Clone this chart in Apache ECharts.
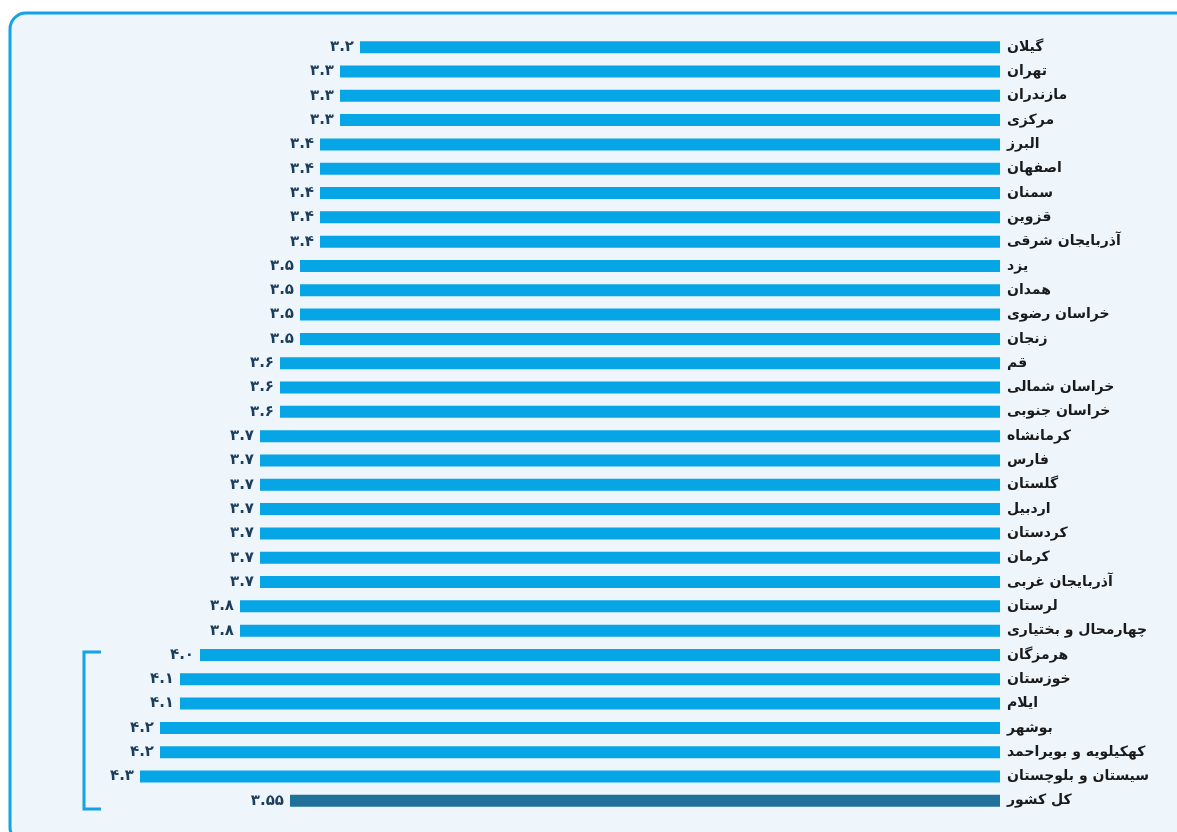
<!DOCTYPE html>
<html>
<head>
<meta charset="utf-8">
<script src="https://cdn.jsdelivr.net/npm/echarts@6/dist/echarts.min.js"></script>
<style>
  html, body { margin: 0; padding: 0; background: #ffffff; }
  #chart { width: 1177px; height: 832px; }
</style>
</head>
<body>
<div id="chart"></div>
<script>
// provinces, top to bottom
const provinces = [
  "گیلان", "تهران", "مازندران", "مرکزی", "البرز", "اصفهان", "سمنان", "قزوین",
  "آذربایجان شرقی", "یزد", "همدان", "خراسان رضوی", "زنجان", "قم",
  "خراسان شمالی", "خراسان جنوبی", "کرمانشاه", "فارس", "گلستان", "اردبیل",
  "کردستان", "کرمان", "آذربایجان غربی", "لرستان", "چهارمحال و بختیاری",
  "هرمزگان", "خوزستان", "ایلام", "بوشهر", "کهکیلویه و بویراحمد",
  "سیستان و بلوچستان", "کل کشور"
];
const values = [
  3.2, 3.3, 3.3, 3.3, 3.4, 3.4, 3.4, 3.4,
  3.4, 3.5, 3.5, 3.5, 3.5, 3.6,
  3.6, 3.6, 3.7, 3.7, 3.7, 3.7,
  3.7, 3.7, 3.7, 3.8, 3.8,
  4.0, 4.1, 4.1, 4.2, 4.2,
  4.3, 3.55
];

const faDigits = "۰۱۲۳۴۵۶۷۸۹";
function toFa(v) {
  // one decimal unless the value needs two (3.55)
  const s = Math.abs(v * 10 - Math.round(v * 10)) < 1e-9 ? v.toFixed(1) : v.toFixed(2);
  return s.replace(/[0-9]/g, d => faDigits[+d]);
}

const chart = echarts.init(document.getElementById("chart"));

const barData = values.map((v, i) => ({
  value: v,
  itemStyle: { color: i === values.length - 1 ? "#1f7199" : "#06a5e5" }
}));

const option = {
  backgroundColor: "#ffffff",
  animation: false,
  graphic: [
    {
      type: "rect",
      z: -10,
      shape: { x: 10, y: 13, width: 1200, height: 830, r: 16 },
      style: { fill: "#eef6fc", stroke: "#13a2e3", lineWidth: 3 }
    },
    {
      type: "polyline",
      z: 5,
      shape: { points: [[101, 652], [84, 652], [84, 809], [101, 809]] },
      style: { stroke: "#13a2e3", lineWidth: 3, fill: null }
    }
  ],
  grid: { left: 100, right: 177, top: 35, bottom: 19, containLabel: false },
  xAxis: {
    type: "value",
    min: 0,
    max: 4.5,
    inverse: true,
    show: false
  },
  yAxis: {
    type: "category",
    data: provinces,
    inverse: true,
    position: "right",
    axisLine: { show: false },
    axisTick: { show: false },
    axisLabel: {
      margin: 7,
      fontFamily: "DejaVu Sans",
      fontSize: 14,
      fontWeight: "bold",
      color: "#1a1a1a"
    }
  },
  series: [
    {
      type: "bar",
      data: barData,
      barWidth: 12,
      label: {
        show: true,
        position: "left",
        distance: 6,
        fontFamily: "DejaVu Sans",
        fontSize: 15,
        fontWeight: "bold",
        color: "#1c3d5c",
        formatter: p => toFa(p.value)
      }
    }
  ]
};

chart.setOption(option);
</script>
</body>
</html>
